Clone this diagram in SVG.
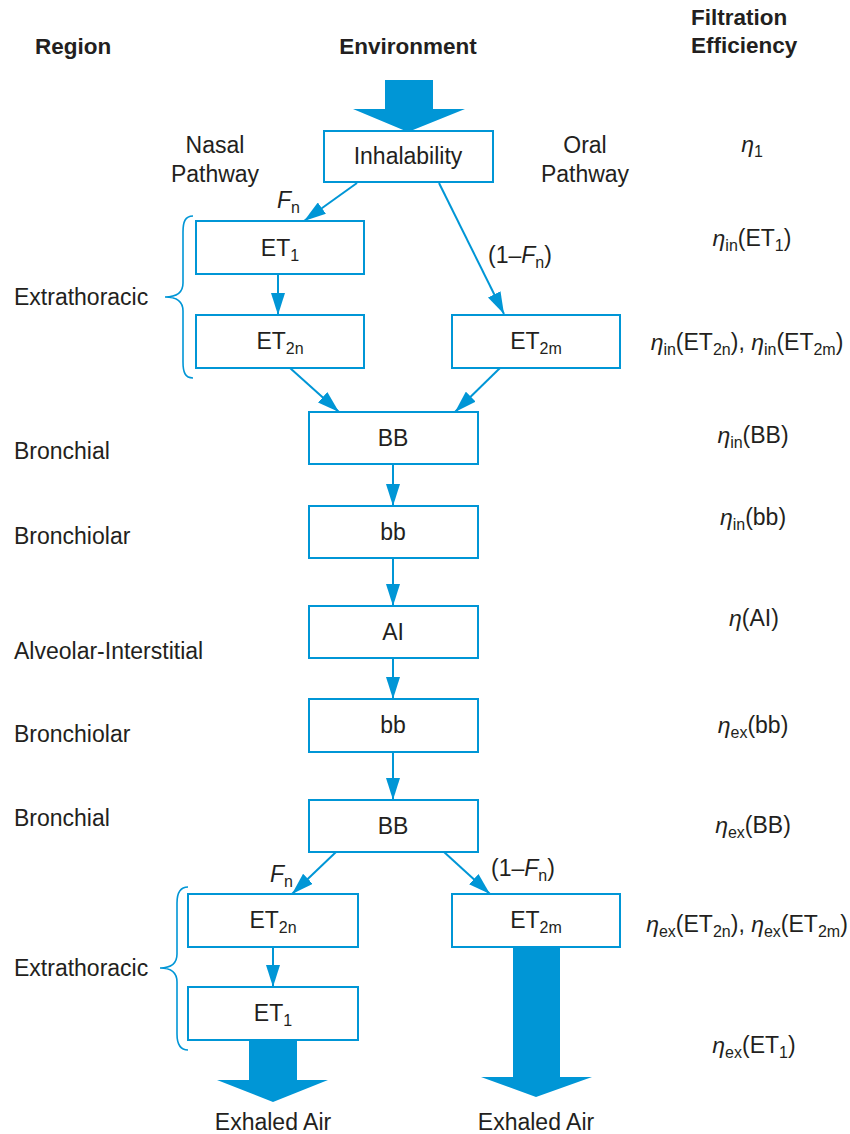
<svg xmlns="http://www.w3.org/2000/svg" width="850" height="1134" viewBox="0 0 850 1134">
<style>
text{font-family:"Liberation Sans",Arial,sans-serif;font-size:23px;fill:#231f20}
.h{font-weight:bold;font-size:22.5px}
.m{text-anchor:middle}
.s{font-size:16px}
.box{fill:#fff;stroke:#0096d6;stroke-width:2}
.con{stroke:#0096d6;stroke-width:2;fill:none;marker-end:url(#ah)}
.big{fill:#0096d6}
.brace{fill:none;stroke:#0096d6;stroke-width:1.6}
.i{font-style:italic}
</style>
<defs>
<marker id="ah" markerUnits="userSpaceOnUse" markerWidth="22" markerHeight="14" refX="22" refY="7" orient="auto">
<path d="M0,0 L22,7 L0,14 z" fill="#0096d6"/>
</marker>
</defs>

<g id="headers">
<text class="h" x="35" y="54">Region</text>
<text class="h m" x="408" y="54">Environment</text>
<text class="h" x="691" y="25">Filtration</text>
<text class="h" x="691" y="53">Efficiency</text>
</g>

<g id="regions">
<text class="m" x="215" y="153">Nasal</text>
<text class="m" x="215" y="182">Pathway</text>
<text class="m" x="585" y="153">Oral</text>
<text class="m" x="585" y="182">Pathway</text>
<text x="14" y="305">Extrathoracic</text>
<text x="14" y="459">Bronchial</text>
<text x="14" y="544">Bronchiolar</text>
<text x="14" y="659">Alveolar-Interstitial</text>
<text x="14" y="742">Bronchiolar</text>
<text x="14" y="826">Bronchial</text>
<text x="14" y="976">Extrathoracic</text>
</g>

<g id="efficiency">
<text class="m" x="752" y="152"><tspan class="i">η</tspan><tspan dy="5" class="s">1</tspan></text>
<text class="m" x="752" y="246"><tspan class="i">η</tspan><tspan dy="5" class="s">in</tspan><tspan dy="-5">(ET</tspan><tspan dy="5" class="s">1</tspan><tspan dy="-5">)</tspan></text>
<text class="m" x="747" y="350"><tspan class="i">η</tspan><tspan dy="5" class="s">in</tspan><tspan dy="-5">(ET</tspan><tspan dy="5" class="s">2n</tspan><tspan dy="-5">), </tspan><tspan class="i">η</tspan><tspan dy="5" class="s">in</tspan><tspan dy="-5">(ET</tspan><tspan dy="5" class="s">2m</tspan><tspan dy="-5">)</tspan></text>
<text class="m" x="753" y="443"><tspan class="i">η</tspan><tspan dy="5" class="s">in</tspan><tspan dy="-5">(BB)</tspan></text>
<text class="m" x="753" y="525"><tspan class="i">η</tspan><tspan dy="5" class="s">in</tspan><tspan dy="-5">(bb)</tspan></text>
<text class="m" x="754" y="626"><tspan class="i">η</tspan>(AI)</text>
<text class="m" x="753" y="733"><tspan class="i">η</tspan><tspan dy="5" class="s">ex</tspan><tspan dy="-5">(bb)</tspan></text>
<text class="m" x="753" y="833"><tspan class="i">η</tspan><tspan dy="5" class="s">ex</tspan><tspan dy="-5">(BB)</tspan></text>
<text class="m" x="747" y="932"><tspan class="i">η</tspan><tspan dy="5" class="s">ex</tspan><tspan dy="-5">(ET</tspan><tspan dy="5" class="s">2n</tspan><tspan dy="-5">), </tspan><tspan class="i">η</tspan><tspan dy="5" class="s">ex</tspan><tspan dy="-5">(ET</tspan><tspan dy="5" class="s">2m</tspan><tspan dy="-5">)</tspan></text>
<text class="m" x="754" y="1053"><tspan class="i">η</tspan><tspan dy="5" class="s">ex</tspan><tspan dy="-5">(ET</tspan><tspan dy="5" class="s">1</tspan><tspan dy="-5">)</tspan></text>
</g>

<g id="braces">
<path class="brace" d="M193,216 C185,216 183,222 183,232 L183,283 C183,292 177,297 165,297 C177,297 183,302 183,311 L183,362 C183,372 185,378 193,378"/>
<path class="brace" d="M188,887 C180,887 177,893 177,903 L177,954 C177,963 172,968 160,968 C172,968 177,973 177,982 L177,1034 C177,1044 180,1050 188,1050"/>
</g>

<g id="big-arrows">
<path class="big" d="M385,80 L433,80 L433,109 L465,109 L408,132 L353,109 L385,109 z"/>
<path class="big" d="M249,1040 L297,1040 L297,1080 L328,1080 L273,1102 L217,1080 L249,1080 z"/>
<path class="big" d="M513,947 L560,947 L560,1077 L592,1077 L536,1097 L481,1077 L513,1077 z"/>
</g>

<g id="connectors">
<line class="con" x1="357" y1="183" x2="304" y2="221"/>
<line class="con" x1="439" y1="183" x2="504" y2="314"/>
<line class="con" x1="278" y1="274" x2="278" y2="315"/>
<line class="con" x1="290" y1="368" x2="339" y2="412"/>
<line class="con" x1="500" y1="368" x2="455" y2="412"/>
<line class="con" x1="393" y1="464" x2="393" y2="506"/>
<line class="con" x1="393" y1="558" x2="393" y2="606"/>
<line class="con" x1="393" y1="658" x2="393" y2="699"/>
<line class="con" x1="393" y1="752" x2="393" y2="800"/>
<line class="con" x1="336" y1="852" x2="292" y2="894"/>
<line class="con" x1="444" y1="852" x2="490" y2="894"/>
<line class="con" x1="273" y1="947" x2="273" y2="987"/>
</g>

<g id="connector-labels">
<text x="277" y="208"><tspan class="i">F</tspan><tspan dy="5" class="s">n</tspan></text>
<text x="488" y="263">(1–<tspan class="i">F</tspan><tspan dy="5" class="s">n</tspan><tspan dy="-5">)</tspan></text>
<text x="270" y="882"><tspan class="i">F</tspan><tspan dy="5" class="s">n</tspan></text>
<text x="491" y="876">(1–<tspan class="i">F</tspan><tspan dy="5" class="s">n</tspan><tspan dy="-5">)</tspan></text>
</g>

<g id="node-inhalability"><rect class="box" x="324" y="131" width="169" height="51"/><text class="m" x="408" y="164">Inhalability</text></g>
<g id="node-et1-in"><rect class="box" x="196" y="221" width="168" height="53"/><text class="m" x="280" y="256">ET<tspan dy="5" class="s">1</tspan></text></g>
<g id="node-et2n-in"><rect class="box" x="196" y="315" width="168" height="53"/><text class="m" x="280" y="349">ET<tspan dy="5" class="s">2n</tspan></text></g>
<g id="node-et2m-in"><rect class="box" x="452" y="315" width="168" height="53"/><text class="m" x="536" y="349">ET<tspan dy="5" class="s">2m</tspan></text></g>
<g id="node-bb-in"><rect class="box" x="309" y="412" width="169" height="52"/><text class="m" x="393" y="446">BB</text></g>
<g id="node-bbl-in"><rect class="box" x="309" y="506" width="169" height="52"/><text class="m" x="393" y="540">bb</text></g>
<g id="node-ai"><rect class="box" x="309" y="606" width="169" height="52"/><text class="m" x="393" y="640">AI</text></g>
<g id="node-bbl-ex"><rect class="box" x="309" y="699" width="169" height="53"/><text class="m" x="393" y="733">bb</text></g>
<g id="node-bb-ex"><rect class="box" x="309" y="800" width="169" height="52"/><text class="m" x="393" y="834">BB</text></g>
<g id="node-et2n-ex"><rect class="box" x="188" y="894" width="170" height="53"/><text class="m" x="273" y="928">ET<tspan dy="5" class="s">2n</tspan></text></g>
<g id="node-et1-ex"><rect class="box" x="188" y="987" width="170" height="53"/><text class="m" x="273" y="1021">ET<tspan dy="5" class="s">1</tspan></text></g>
<g id="node-et2m-ex"><rect class="box" x="452" y="894" width="168" height="53"/><text class="m" x="536" y="928">ET<tspan dy="5" class="s">2m</tspan></text></g>

<g id="outputs">
<text class="m" x="273" y="1130">Exhaled Air</text>
<text class="m" x="536" y="1130">Exhaled Air</text>
</g>
</svg>
